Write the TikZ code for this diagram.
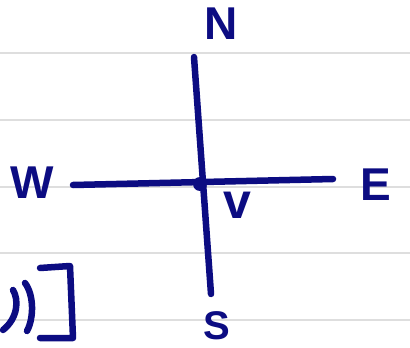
\documentclass[tikz,border=0pt]{standalone}
\usepackage{fontspec}
\setmainfont{Liberation Sans}
\definecolor{ink}{RGB}{12,12,130}
\definecolor{rule}{RGB}{222,222,222}
\begin{document}
\begin{tikzpicture}[x=1pt,y=-1pt,
  pen/.style={draw=ink,line width=6.5pt,line cap=round,line join=round},
  ruling/.style={draw=rule,line width=1.5pt},
  lbl/.style={text=ink,inner sep=0pt,font=\fontsize{46}{46}\selectfont\bfseries},
  smalllbl/.style={text=ink,inner sep=0pt,font=\fontsize{40}{40}\selectfont\bfseries},
  vlbl/.style={text=ink,inner sep=0pt,font=\fontsize{50}{50}\selectfont\bfseries}]
\useasboundingbox (0,0) rectangle (410,348);
\fill[white] (0,0) rectangle (410,348);
\foreach \yy in {53,120,187,253,320} \draw[ruling] (0,\yy) -- (410,\yy);
% cross
\coordinate (top) at (194,57);
\coordinate (bot) at (211,294);
\coordinate (lft) at (73,185);
\coordinate (rgt) at (333,179);
\coordinate (ctr) at (200,184);
\draw[pen] (top) -- (bot);
\draw[pen] (lft) -- (rgt);
\fill[ink] (ctr) circle (7pt);
% labels
\node[lbl] (n) at (221,24) {N};
\node[lbl] (w) at (32,183) {W};
\node[lbl] (e) at (376,185) {E};
\node[smalllbl] (s) at (217,326) {S};
\node[vlbl] (v) at (237,205) {v};
% partial text bottom-left
\draw[pen] (13,290) .. controls (19,300) and (18,318) .. (3,330);
\draw[pen] (25,283) .. controls (34,295) and (34,318) .. (27,331);
\draw[pen] (40,268) -- (70,266) -- (73,338) -- (40,338);
\end{tikzpicture}
\end{document}
